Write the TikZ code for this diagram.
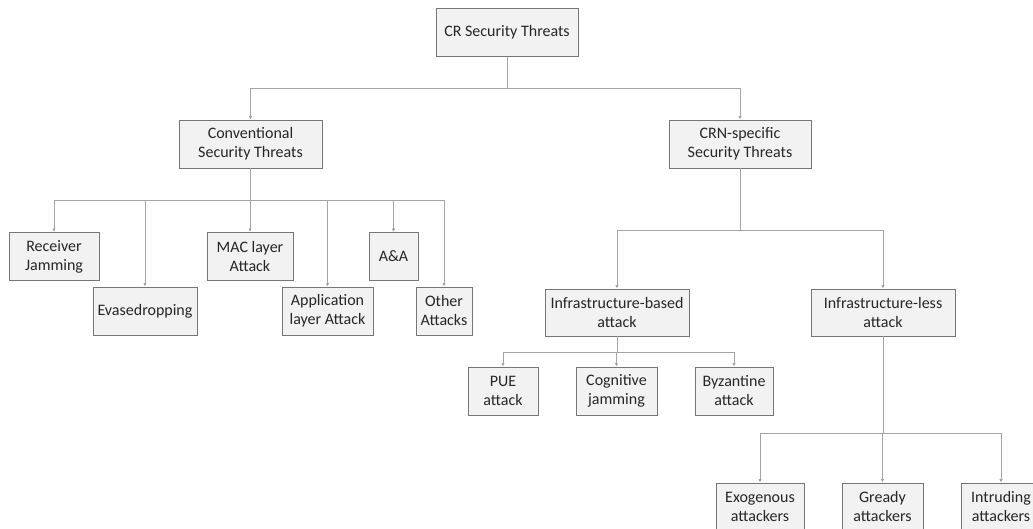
\documentclass[tikz,border=0pt]{standalone}
\usepackage{fontspec}
\setmainfont{Carlito}
\usetikzlibrary{arrows.meta}
\definecolor{boxfill}{HTML}{F2F2F2}
\definecolor{boxline}{HTML}{767676}
\definecolor{wire}{HTML}{A5A5A5}
\definecolor{tipc}{HTML}{595959}
\begin{document}
\begin{tikzpicture}[x=1pt,y=-1pt,
  box/.style={draw=boxline, line width=0.95pt, fill=boxfill, inner sep=0pt,
    minimum height=48pt, align=center, font=\fontsize{16}{19}\selectfont, text=black!85},
  link/.style={draw=wire, line width=0.9pt},
  arr/.style={link, -{Latex[length=3.5pt,width=3.5pt,fill=tipc]}}]
\useasboundingbox (0,0) rectangle (1033,529);
\clip (0,0) rectangle (1033,529);
\fill[white] (0,0) rectangle (1033,529);

% level 0
\node[box, minimum width=142pt] (root) at (507,32.5) {CR Security Threats};
% level 1
\node[box, minimum width=143pt] (conv) at (250.5,144) {Conventional\\Security Threats};
\node[box, minimum width=142pt] (crn) at (740,144) {CRN-specific\\Security Threats};
% conventional threats
\node[box, minimum width=90pt] (rj) at (54,256.5) {Receiver\\Jamming};
\node[box, minimum width=104pt] (eav) at (145,311) {Evasedropping};
\node[box, minimum width=86pt] (mac) at (250,256.5) {MAC layer\\Attack};
\node[box, minimum width=91pt] (app) at (327.5,311) {Application\\layer Attack};
\node[box, minimum width=49pt] (aa) at (393.5,256.5) {A\&A};
\node[box, minimum width=56pt] (oth) at (444,311) {Other\\Attacks};
% CRN-specific threats
\node[box, minimum width=144pt, minimum height=47pt] (ib) at (617,312.5) {Infrastructure-based\\attack};
\node[box, minimum width=144pt, minimum height=47pt] (il) at (883,312.5) {Infrastructure-less\\attack};
\node[box, minimum width=70pt] (pue) at (503,391) {PUE\\attack};
\node[box, minimum width=81pt] (cog) at (616.5,391) {Cognitive\\jamming};
\node[box, minimum width=78pt] (byz) at (734,391) {Byzantine\\attack};
\node[box, minimum width=88pt] (exo) at (760,507) {Exogenous\\attackers};
\node[box, minimum width=81pt] (gre) at (882.5,507) {Gready\\attackers};
\node[box, minimum width=80pt] (intr) at (1001,507) {Intruding\\attackers};

% bus levels
\coordinate (b0) at (0,88);
\coordinate (b1) at (0,200);
\coordinate (b2) at (0,230);
\coordinate (b3) at (0,352);
\coordinate (b4) at (0,433);

\draw[link] (root.south) -- (root.south |- b0);
\foreach \c in {conv,crn} \draw[arr] (root.south |- b0) -| (\c.north);

\draw[link] (conv.south) -- (conv.south |- b1);
\foreach \c in {rj,eav,mac,app,aa,oth} \draw[arr] (conv.south |- b1) -| (\c.north);

\draw[link] (crn.south) -- (crn.south |- b2);
\foreach \c in {ib,il} \draw[arr] (crn.south |- b2) -| (\c.north);

\draw[link] (ib.south) -- (ib.south |- b3);
\foreach \c in {pue,cog,byz} \draw[arr] (ib.south |- b3) -| (\c.north);

\draw[link] (il.south) -- (il.south |- b4);
\foreach \c in {exo,gre,intr} \draw[arr] (il.south |- b4) -| (\c.north);
\end{tikzpicture}
\end{document}
